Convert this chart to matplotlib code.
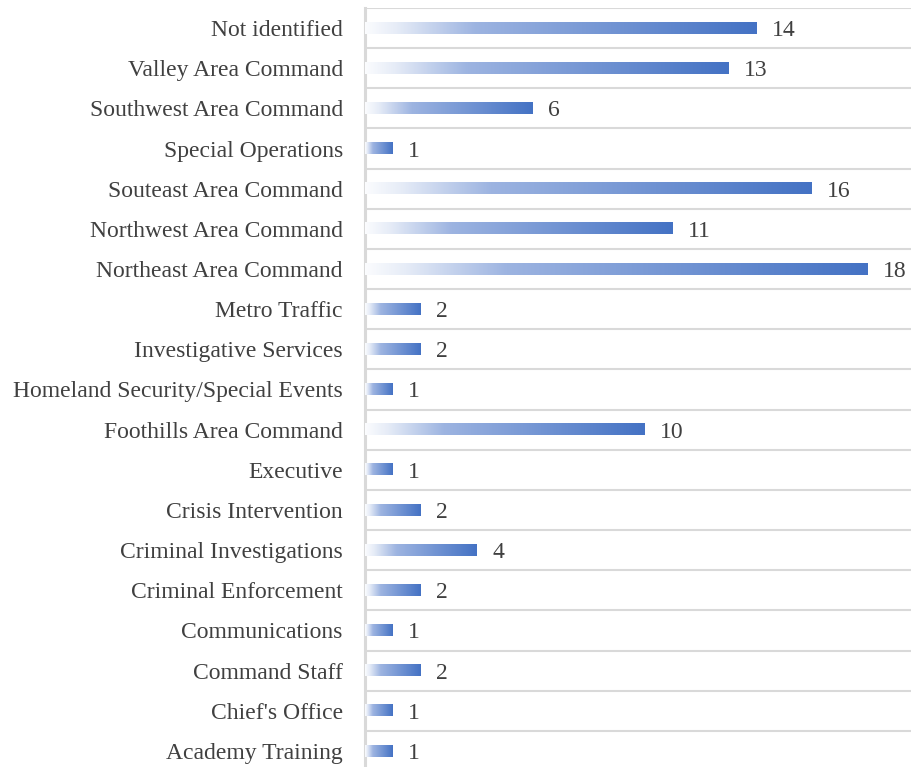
import numpy as np
import matplotlib
matplotlib.use("Agg")
import matplotlib.pyplot as plt
from matplotlib.colors import LinearSegmentedColormap

# categories listed bottom -> top
categories = [
    "Academy Training", "Chief's Office", "Command Staff", "Communications",
    "Criminal Enforcement", "Criminal Investigations", "Crisis Intervention",
    "Executive", "Foothills Area Command", "Homeland Security/Special Events",
    "Investigative Services", "Metro Traffic", "Northeast Area Command",
    "Northwest Area Command", "Souteast Area Command", "Special Operations",
    "Southwest Area Command", "Valley Area Command", "Not identified",
]
counts = [1, 1, 2, 1, 2, 4, 2, 1, 10, 1, 2, 2, 18, 11, 16, 1, 6, 13, 14]

TEXT_COLOR = '#404040'
GRID_COLOR = '#d9d9d9'
BAR_HEIGHT = 0.28

plt.rcParams['font.family'] = ['Liberation Serif', 'DejaVu Serif']

fig = plt.figure(figsize=(9.11, 7.67), dpi=100)
ax = fig.add_axes([0.4007, -0.0052, 0.6, 0.9948])

# white -> blue fade used on every bar
fade = LinearSegmentedColormap.from_list(
    'fade', [(0.0, '#fbfcfe'), (0.08, '#e6ecf7'), (0.28, '#9db4e1'),
             (1.0, '#4472c4')])
grad = np.linspace(0, 1, 256).reshape(1, -1)

n = len(categories)
for i, (cat, val) in enumerate(zip(categories, counts)):
    ax.imshow(grad, cmap=fade, aspect='auto', interpolation='bilinear',
              extent=[0, val, i - BAR_HEIGHT / 2, i + BAR_HEIGHT / 2], zorder=3)
    ax.text(val + 0.55, i, str(val), va='center_baseline', ha='left',
            fontsize=17, color=TEXT_COLOR)

# row separators
for b in np.arange(-0.5, n, 1.0):
    ax.axhline(b, color=GRID_COLOR, linewidth=1.5, zorder=1)

ax.set_xlim(0, 19.57)
ax.set_ylim(-0.5, n - 0.5)
ax.set_yticks(range(n))
ax.set_yticklabels(categories, fontsize=17, color=TEXT_COLOR)
for lbl in ax.get_yticklabels():
    lbl.set_verticalalignment('center_baseline')
ax.tick_params(axis='y', length=0, pad=16)
ax.set_xticks([])

for side in ['top', 'right', 'bottom']:
    ax.spines[side].set_visible(False)
ax.spines['left'].set_color(GRID_COLOR)
ax.spines['left'].set_linewidth(2.2)

fig.savefig('out.png', dpi=100)
